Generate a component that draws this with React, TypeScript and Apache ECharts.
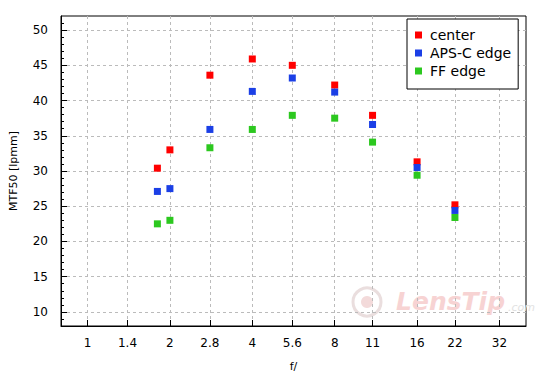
import React, { useEffect, useRef } from 'react';
import * as echarts from 'echarts';

const fStops = [1.8, 2, 2.8, 4, 5.6, 8, 11, 16, 22];
const centerVals = [30.4, 33.0, 43.6, 45.9, 45.0, 42.2, 37.9, 31.3, 25.2];
const apsVals = [27.1, 27.5, 35.9, 41.3, 43.2, 41.2, 36.6, 30.5, 24.4];
const ffVals = [22.5, 23.0, 33.3, 35.9, 37.9, 37.5, 34.1, 29.4, 23.4];
const seriesNames = ['center', 'APS-C edge', 'FF edge'];
const seriesColors = ['#ff0000', '#1b3fe6', '#2cc81f'];
const xTicks = [1, 1.4, 2, 2.8, 4, 5.6, 8, 11, 16, 22, 32];
const yTicks = [10, 15, 20, 25, 30, 35, 40, 45, 50];
const yMinorTicks = [9, 11, 12, 13, 14, 16, 17, 18, 19, 21, 22, 23, 24, 26, 27, 28, 29, 31, 32, 33, 34, 36, 37, 38, 39, 41, 42, 43, 44, 46, 47, 48, 49, 51];

const FONT = 'DejaVu Sans';

export default function App() {
  const ref = useRef<HTMLDivElement>(null);
  useEffect(() => {
    document.body.style.margin = '0';
    const chart = echarts.init(ref.current!, null, { renderer: 'svg' });
    const dash = { color: '#bbbbbb', type: [3, 3] as any, width: 1 };
    const mk = (vals: number[]) => fStops.map((f, i) => [f, vals[i]]);
    chart.setOption({
      animation: false,
      backgroundColor: '#ffffff',
      grid: {
        left: 61, top: 16, right: 24, bottom: 54,
        outerBoundsMode: 'none',
        containLabel: false,
        show: true, borderColor: '#000', borderWidth: 1, backgroundColor: 'transparent',
      },
      legend: {
        orient: 'vertical',
        left: 407,
        top: 19,
        padding: [9, 7, 11, 8],
        backgroundColor: '#fff',
        borderColor: '#000',
        borderWidth: 1,
        borderRadius: 0,
        icon: 'rect',
        itemWidth: 7,
        itemHeight: 7,
        itemGap: 4,
        textStyle: { fontFamily: FONT, fontSize: 14, color: '#000', padding: [0, 0, 0, 3] },
        data: seriesNames,
      },
      xAxis: {
        type: 'log',
        logBase: 2,
        min: 0.8,
        max: 40,
        name: 'f/',
        nameLocation: 'middle',
        nameGap: 35,
        nameTextStyle: { fontFamily: FONT, fontSize: 11, color: '#000' },
        axisLine: { show: true, lineStyle: { color: '#000', width: 1 } },
        axisTick: { show: true, inside: true, length: 6, customValues: xTicks, lineStyle: { color: '#000' } },
        axisLabel: {
          customValues: xTicks,
          fontFamily: FONT, fontSize: 12, color: '#000', margin: 11,
          formatter: (v: number) => String(v),
        },
        splitLine: { show: true, lineStyle: dash },
        minorTick: { show: false },
      },
      yAxis: [
        {
          type: 'value',
          min: 8,
          max: 52,
          position: 'left',
          name: 'MTF50 [lpmm]',
          nameLocation: 'middle',
          nameGap: 42,
          nameRotate: 90,
          nameTextStyle: { fontFamily: FONT, fontSize: 11, color: '#000' },
          axisLine: { show: true, lineStyle: { color: '#000', width: 1 } },
          axisTick: { show: true, inside: true, length: 6, customValues: yTicks, lineStyle: { color: '#000' } },
          axisLabel: {
            customValues: yTicks,
            fontFamily: FONT, fontSize: 12, color: '#000', margin: 13,
          },
          splitLine: { show: true, lineStyle: dash },
        },
        {
          type: 'value',
          min: 8,
          max: 52,
          position: 'left',
          offset: 0,
          axisLine: { show: false },
          axisTick: { show: true, inside: true, length: 3, customValues: yMinorTicks, lineStyle: { color: '#000' } },
          axisLabel: { show: false },
          splitLine: { show: false },
        },
      ],
      graphic: [
        {
          type: 'group',
          silent: true,
          z: 1,
          children: [
            { type: 'circle', shape: { cx: 367, cy: 302, r: 14 }, style: { fill: 'none', stroke: '#eadede', lineWidth: 3 } },
            { type: 'circle', shape: { cx: 367, cy: 302, r: 6 }, style: { fill: '#f3dada', stroke: 'none' } },
            {
              type: 'text', x: 396, y: 314,
              style: { text: 'LensTip', fill: '#f7d3d3', font: 'italic bold 25px "DejaVu Sans"', textVerticalAlign: 'bottom' },
            },
            {
              type: 'text', x: 508, y: 313,
              style: { text: '.com', fill: '#e2e2e2', font: 'italic 11px "DejaVu Sans"', textVerticalAlign: 'bottom' },
            },
          ],
        },
      ],
      series: [centerVals, apsVals, ffVals].map((vals, i) => ({
        type: 'scatter',
        name: seriesNames[i],
        data: mk(vals),
        symbol: 'rect',
        symbolSize: 7,
        itemStyle: { color: seriesColors[i], opacity: 1 },
        z: 3,
      })),
    });
    return () => chart.dispose();
  }, []);
  return <div ref={ref} style={{ width: 550, height: 380 }} />;
}
